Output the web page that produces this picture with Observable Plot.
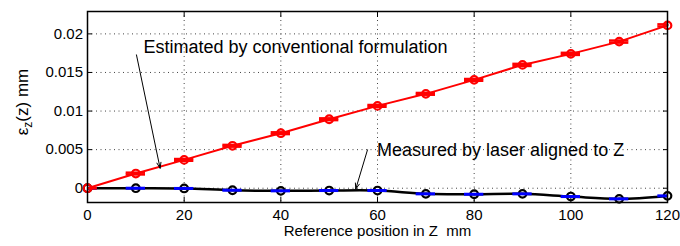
<!DOCTYPE html>
<html>
<head>
<meta charset="utf-8">
<script src="https://cdn.jsdelivr.net/npm/d3@7"></script>
<script src="https://cdn.jsdelivr.net/npm/@observablehq/plot@0.6"></script>
<style>
  html, body { margin: 0; padding: 0; background: #fff; }
  #chart svg { display: block; }
</style>
</head>
<body>
<div id="chart"></div>
<script>
// ---- data ----
const positions = [0, 10, 20, 30, 40, 50, 60, 70, 80, 90, 100, 110, 120];
const estimated = [0, 0.0019, 0.00367, 0.0055, 0.00713, 0.00894, 0.01067, 0.01223, 0.01404, 0.01598, 0.01741, 0.0190, 0.0211];
const estimatedErr = [0, 0.00012, 0.00012, 0.00012, 0.00012, 0.00012, 0.00012, 0.00012, 0.00012, 0.00014, 0.00014, 0.00014, 0.00014];
const measured = [0, 0, -0.00003, -0.00026, -0.00034, -0.0003, -0.0003, -0.00073, -0.00078, -0.00073, -0.00108, -0.00138, -0.00099];
const capHalfWidth = 2;
const xTicks = [0, 20, 40, 60, 80, 100, 120];
const yTicks = [0, 0.005, 0.01, 0.015, 0.02];
const yTickLabels = ["0", "0.005", "0.01", "0.015", "0.02"];
const annText = ["Estimated by conventional formulation", "Measured by laser aligned to Z"];
const annX = [11.57, 59.9];
const annY = [0.01826, 0.00492];
const arrowX1 = [10.13, 57.93];
const arrowY1 = [0.01728, 0.00497];
const arrowX2 = [15.02, 55.5];
const arrowY2 = [0.00259, -0.0001];
const xLabel = "Reference position in Z  mm";

const est = positions.map((x, i) => ({x, y: estimated[i], e: estimatedErr[i]}));
const mea = positions.map((x, i) => ({x, y: measured[i]}));
const ann = annText.map((t, i) => ({t, x: annX[i], y: annY[i]}));
const arrows = arrowX1.map((_, i) => ({x1: arrowX1[i], y1: arrowY1[i], x2: arrowX2[i], y2: arrowY2[i]}));

const font = "'Liberation Sans', Arial, Helvetica, sans-serif";

const chart = Plot.plot({
  width: 680,
  height: 246,
  marginLeft: 87,
  marginRight: 13,
  marginTop: 11,
  marginBottom: 44,
  style: {fontFamily: font, fontSize: "15px", color: "#000", background: "#fff"},
  x: {domain: [0, 120]},
  y: {domain: [-0.00185, 0.0229]},
  marks: [
    Plot.gridX(xTicks.slice(1, -1), {stroke: "#444", strokeOpacity: 1, strokeDasharray: "1,3.5", strokeWidth: 1}),
    Plot.gridY(yTicks, {stroke: "#444", strokeOpacity: 1, strokeDasharray: "1,3.5", strokeWidth: 1}),
    Plot.axisX({ticks: xTicks, tickSize: -5, tickPadding: 12, tickFormat: d => String(d), label: null, fontSize: 15}),
    Plot.axisX({anchor: "top", ticks: xTicks, tickSize: -5, tickFormat: () => "", label: null}),
    Plot.axisY({ticks: yTicks, tickSize: -5, tickPadding: 9.5, tickFormat: d => yTickLabels[yTicks.indexOf(d)] ?? "", label: null, fontSize: 15}),
    Plot.axisY({anchor: "right", ticks: yTicks, tickSize: -5, tickFormat: () => "", label: null}),
    // measured series
    Plot.line(mea, {x: "x", y: "y", stroke: "#000", strokeWidth: 2.5, curve: "catmull-rom", clip: true}),
    Plot.dot(mea, {x: "x", y: "y", r: 3.8, stroke: "#000", strokeWidth: 2.2, fill: "none"}),
    Plot.ruleY(mea, {y: "y", x1: d => d.x - capHalfWidth, x2: d => d.x + capHalfWidth, stroke: "#0000ff", strokeWidth: 3, clip: true}),
    // estimated series
    Plot.line(est, {x: "x", y: "y", stroke: "#ff0000", strokeWidth: 2, clip: true}),
    Plot.ruleX(est, {x: "x", y1: d => d.y - d.e, y2: d => d.y + d.e, stroke: "#ff0000", strokeWidth: 2}),
    Plot.ruleY(est, {y: d => d.y + d.e, x1: d => d.x - capHalfWidth, x2: d => d.x + capHalfWidth, stroke: "#ff0000", strokeWidth: 2.4, clip: true}),
    Plot.ruleY(est, {y: d => d.y - d.e, x1: d => d.x - capHalfWidth, x2: d => d.x + capHalfWidth, stroke: "#ff0000", strokeWidth: 2.4, clip: true}),
    Plot.dot(est, {x: "x", y: "y", r: 3.8, stroke: "#ff0000", strokeWidth: 2.2, fill: "none"}),
    // annotations
    Plot.arrow(arrows, {x1: "x1", y1: "y1", x2: "x2", y2: "y2", stroke: "#000", strokeWidth: 1, headLength: 9, headAngle: 40}),
    Plot.text(ann, {x: "x", y: "y", text: "t", textAnchor: "start", fontSize: 18, fill: "#000"}),
    Plot.text([xLabel], {frameAnchor: "bottom", dy: 33, text: d => d, fontSize: 15, fill: "#000"}),
    Plot.frame({stroke: "#000", strokeWidth: 1.5})
  ]
});

// y-axis label with subscript
const svg = d3.select(chart);
const yl = svg.append("text")
  .attr("transform", "translate(24,102) rotate(-90)")
  .attr("text-anchor", "middle")
  .attr("dominant-baseline", "middle")
  .attr("font-family", font)
  .attr("font-size", 17)
  .attr("fill", "#000");
yl.append("tspan").text("ε");
yl.append("tspan").attr("font-size", 12).attr("dy", 5).text("z");
yl.append("tspan").attr("dy", -5).text("(z) mm");

document.getElementById("chart").appendChild(chart);
</script>
</body>
</html>
